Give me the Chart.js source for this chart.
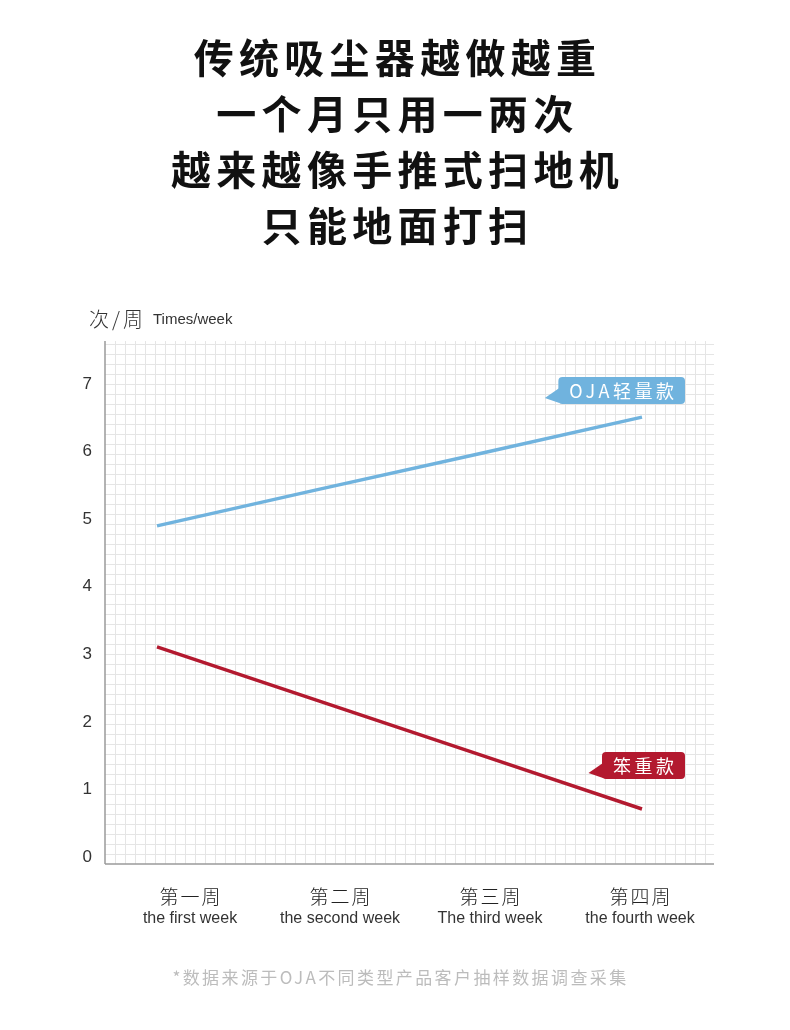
<!DOCTYPE html>
<html>
<head>
<meta charset="utf-8">
<script src="https://cdn.jsdelivr.net/npm/chart.js@4"></script>
<style>
  html, body { margin: 0; padding: 0; background: #ffffff; }
  body { width: 790px; height: 1030px; position: relative; overflow: hidden; }
  #c { position: absolute; left: 0; top: 0; }
  .title { position: absolute; left: 0; width: 790px; top: 28px; text-align: center;
    font-family: "Noto Sans CJK SC", sans-serif; font-weight: 700; font-size: 40px;
    line-height: 56px; letter-spacing: 5.3px; padding-left: 5px; box-sizing: border-box; color: #111; }
  .note { position: absolute; left: 0; width: 790px; top: 964px; text-align: center;
    font-family: "Noto Sans CJK SC", sans-serif; font-size: 17px; line-height: 26px;
    letter-spacing: 2.4px; padding-left: 11px; box-sizing: border-box; color: #bcbcbc; }
</style>
</head>
<body>
<canvas id="c" width="790" height="1030"></canvas>
<div class="title">传统吸尘器越做越重<br>一个月只用一两次<br>越来越像手推式扫地机<br>只能地面打扫</div>
<div class="note">*数据来源于OJA不同类型产品客户抽样数据调查采集</div>
<script>
// ---- data ----
const weeksCn = ['第一周', '第二周', '第三周', '第四周'];
const weeksEn = ['the first week', 'the second week', 'The third week', 'the fourth week'];
const weekIndex = [1, 2, 3, 4];
const ojaValues = [4.9, 5.44, 5.97, 6.51];
const heavyValues = [3.11, 2.31, 1.51, 0.71];
const yTickValues = [0, 1, 2, 3, 4, 5, 6, 7];
const seriesNames = ['OJA轻量款', '笨重款'];
const yUnitCn = '次/周';
const yUnitEn = 'Times/week';

const BLUE = '#70b3de';
const RED = '#b3192f';
const CJK = '"Noto Sans CJK SC", sans-serif';
const LAT = '"Liberation Sans", Arial, sans-serif';

const toPoints = vals => weekIndex.map((w, i) => ({ x: w, y: vals[i] }));

const decor = {
  id: 'decor',
  beforeDatasetsDraw(chart) {
    const { ctx, chartArea: a } = chart;
    ctx.save();
    // fine grid
    ctx.strokeStyle = '#e5e5e5';
    ctx.lineWidth = 1;
    ctx.beginPath();
    for (let x = a.left + 10; x < a.right; x += 10) {
      ctx.moveTo(Math.round(x) + 0.5, a.top);
      ctx.lineTo(Math.round(x) + 0.5, a.bottom);
    }
    for (let y = a.bottom - 10; y > a.top; y -= 10) {
      ctx.moveTo(a.left, Math.round(y) + 0.5);
      ctx.lineTo(a.right, Math.round(y) + 0.5);
    }
    ctx.stroke();
    // axes lines
    ctx.strokeStyle = '#9a9a9a';
    ctx.lineWidth = 1.5;
    ctx.beginPath();
    ctx.moveTo(a.left, a.bottom);
    ctx.lineTo(a.right, a.bottom);
    ctx.moveTo(a.left, a.top);
    ctx.lineTo(a.left, a.bottom);
    ctx.stroke();
    ctx.restore();
  },
  afterDraw(chart) {
    const { ctx } = chart;
    const xl = chart.scales.xl;
    ctx.save();
    // y unit title
    ctx.fillStyle = '#333';
    ctx.textBaseline = 'middle';
    ctx.textAlign = 'left';
    ctx.font = '300 20px ' + CJK;
    ctx.letterSpacing = '3px';
    ctx.fillText(yUnitCn, 89, 319);
    ctx.letterSpacing = '0px';
    ctx.font = '15px ' + LAT;
    ctx.fillText(yUnitEn, 153, 320);
    // x labels
    ctx.textAlign = 'center';
    weekIndex.forEach((w, i) => {
      const x = xl.getPixelForValue(w);
      ctx.fillStyle = '#222';
      ctx.font = '300 19px ' + CJK;
      ctx.letterSpacing = '2px';
      ctx.fillText(weeksCn[i], x + 1, 897);
      ctx.letterSpacing = '0px';
      ctx.fillStyle = '#333';
      ctx.font = '16px ' + LAT;
      ctx.fillText(weeksEn[i], x, 919);
    });
    // callouts
    const offsets = [{ dx: 43, dy: -40 }, { dx: 43, dy: -57 }];
    chart.data.datasets.forEach((ds, di) => {
      const meta = chart.getDatasetMeta(di);
      const last = meta.data[meta.data.length - 1];
      ctx.font = '18px ' + CJK;
      ctx.letterSpacing = '3.5px';
      const tw = ctx.measureText(ds.label).width - 3.5;
      const w = tw + 22, h = 27;
      const right = last.x + offsets[di].dx;
      const top = last.y + offsets[di].dy;
      const left = right - w;
      ctx.fillStyle = ds.borderColor;
      ctx.beginPath();
      ctx.roundRect(left, top, w, h, 4);
      ctx.fill();
      ctx.beginPath();
      ctx.moveTo(left + 1, top + 11);
      ctx.lineTo(left - 13.5, top + 21);
      ctx.lineTo(left + 1, top + 26);
      ctx.closePath();
      ctx.fill();
      ctx.fillStyle = '#ffffff';
      ctx.textAlign = 'left';
      ctx.textBaseline = 'middle';
      ctx.fillText(ds.label, left + 11, top + h / 2 + 1);
      ctx.letterSpacing = '0px';
    });
    ctx.restore();
  }
};

new Chart(document.getElementById('c'), {
  type: 'line',
  data: {
    datasets: [
      { label: seriesNames[0], data: toPoints(ojaValues), borderColor: BLUE, backgroundColor: BLUE,
        borderWidth: 3.5, pointRadius: 0, tension: 0, xAxisID: 'x', yAxisID: 'y', clip: false },
      { label: seriesNames[1], data: toPoints(heavyValues), borderColor: RED, backgroundColor: RED,
        borderWidth: 3.5, pointRadius: 0, tension: 0, xAxisID: 'x', yAxisID: 'y', clip: false }
    ]
  },
  options: {
    responsive: false,
    animation: false,
    events: [],
    layout: { padding: { top: 341, bottom: 166, right: 76, left: 0 } },
    plugins: { legend: { display: false }, tooltip: { enabled: false }, title: { display: false } },
    scales: {
      x: { type: 'linear', display: false, min: 0.6784, max: 4.4454 },
      xl: { type: 'linear', display: false, min: 0.4333, max: 4.4933 },
      y: {
        type: 'linear', position: 'left', min: -0.1036, max: 7.636,
        afterFit(scale) { scale.width = 105; },
        afterBuildTicks(scale) { scale.ticks = yTickValues.map(v => ({ value: v })); },
        grid: { display: false, drawTicks: false },
        border: { display: false },
        ticks: { padding: 13, color: '#333', font: { family: LAT, size: 17 }, includeBounds: false }
      }
    }
  },
  plugins: [decor]
});
</script>
</body>
</html>
